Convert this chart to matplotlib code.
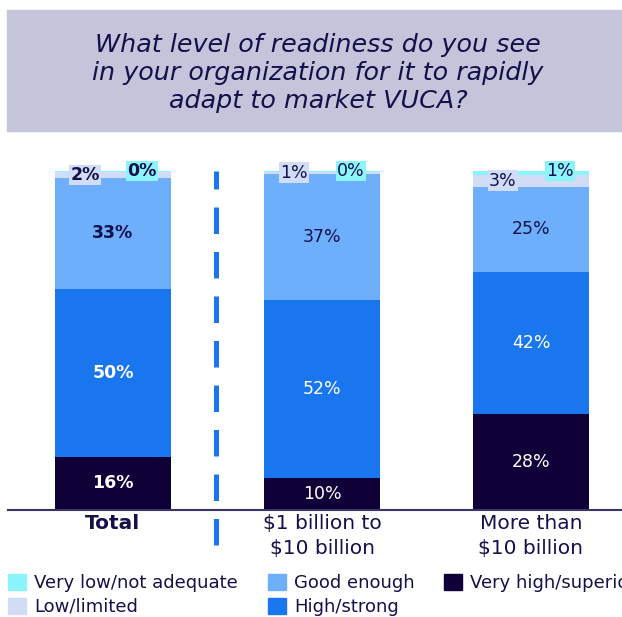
import matplotlib.pyplot as plt
from matplotlib.patches import Rectangle, Patch

W, H = 622, 617

categories = ["Total", "$1 billion to\n$10 billion", "More than\n$10 billion"]
series = ["Very low/not adequate", "Low/limited", "Good enough", "High/strong", "Very high/superior"]
# bar heights (they sum to 100 per bar)
very_high = [15.7, 9.4, 28.2]
high = [49.6, 52.4, 42.1]
good = [32.6, 37.3, 25.1]
low = [1.8, 0.7, 3.4]
very_low = [0.3, 0.2, 1.2]
# printed labels
very_high_lbl = ["16%", "10%", "28%"]
high_lbl = ["50%", "52%", "42%"]
good_lbl = ["33%", "37%", "25%"]
low_lbl = ["2%", "1%", "3%"]
very_low_lbl = ["0%", "0%", "1%"]

colors = {"very_low": "#8cf4fb", "low": "#d1ddf7", "good": "#6eaffc",
          "high": "#1a76ef", "very_high": "#0f0038"}
navy = "#14104a"

fig = plt.figure(figsize=(W / 100, H / 100), dpi=100)

# title box
fig.patches.append(Rectangle((7 / W, 1 - 131 / H), (W - 7) / W, 121 / H,
                             transform=fig.transFigure, color="#c4c4da", zorder=0))
fig.text(318 / W, 1 - 73 / H,
         "What level of readiness do you see\nin your organization for it to rapidly\nadapt to market VUCA?",
         ha="center", va="center", fontsize=18.3, style="italic", color=navy,
         linespacing=1.22)

# axes: baseline at y=510px, 100% at y=171px, bar centres 113/322/531px
scale = 3.39
left, right = 8, 622
base, top = 510, 140
ax = fig.add_axes([left / W, 1 - base / H, (right - left) / W, (base - top) / H])
ax.set_xlim((left - 113) / 209, (right - 113) / 209)
ax.set_ylim(0, (base - top) / scale)

x = [0, 1, 2]
bw = 116 / 209
stack = [very_high, high, good, low, very_low]
keys = ["very_high", "high", "good", "low", "very_low"]
bottoms = [0, 0, 0]
bottoms_by_key = {}
for vals, k in zip(stack, keys):
    bottoms_by_key[k] = list(bottoms)
    ax.bar(x, vals, bw, bottom=bottoms, color=colors[k], linewidth=0)
    bottoms = [b + v for b, v in zip(bottoms, vals)]

for i in x:
    fw = "bold" if i == 0 else "normal"
    for vals, lbls, k, c in [(very_high, very_high_lbl, "very_high", "white"),
                             (high, high_lbl, "high", "white"),
                             (good, good_lbl, "good", navy)]:
        ax.text(i, bottoms_by_key[k][i] + vals[i] / 2, lbls[i], ha="center", va="center",
                color=c, fontsize=12.5, fontweight=fw)
    ax.text(i - 28 / 209, bottoms_by_key["low"][i] + low[i] / 2, low_lbl[i],
            ha="center", va="center", color=navy, fontsize=12.5, fontweight=fw,
            bbox=dict(boxstyle="square,pad=0.08", fc=colors["low"], ec="none"))
    ax.text(i + 29 / 209, bottoms[i], very_low_lbl[i],
            ha="center", va="center", color=navy, fontsize=12.5, fontweight=fw,
            bbox=dict(boxstyle="square,pad=0.08", fc=colors["very_low"], ec="none"))

# dashed separator
xd = (216.5 - 113) / 209
ax.plot([xd, xd], [(base - 545) / scale, (base - 171) / scale], color="#1a76ef",
        lw=3.6, dashes=(5.3, 3.6), dash_capstyle="butt", clip_on=False)

for s in ["top", "right", "left"]:
    ax.spines[s].set_visible(False)
ax.spines["bottom"].set_color("#3b3466")
ax.spines["bottom"].set_linewidth(1.5)
ax.set_yticks([])
ax.set_xticks(x)
ax.set_xticklabels(categories, fontsize=14.5, color=navy, linespacing=1.38)
ax.get_xticklabels()[0].set_fontweight("bold")
ax.tick_params(axis="x", length=0, pad=3)

handles = [Patch(color=colors[k]) for k in ["very_low", "low", "good", "high", "very_high"]]
fig.legend(handles, series, ncol=3, loc="upper left",
           bbox_to_anchor=(8 / W, 1 - 574 / H), frameon=False, fontsize=13,
           handlelength=1.0, handleheight=1.0, handletextpad=0.45,
           columnspacing=1.65, labelspacing=0.3, labelcolor=navy,
           borderaxespad=0, borderpad=0)

fig.savefig("out.png", dpi=100)
